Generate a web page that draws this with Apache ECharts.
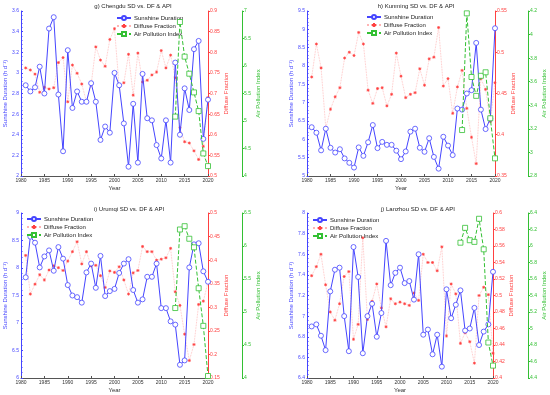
<!DOCTYPE html>
<html><head><meta charset="utf-8">
<script src="https://cdn.jsdelivr.net/npm/echarts@6/dist/echarts.min.js"></script>
<style>html,body{margin:0;padding:0;background:#fff}#c{width:550px;height:395px}</style>
</head><body><div id="c"></div>
<script>
const years = [1981,1982,1983,1984,1985,1986,1987,1988,1989,1990,1991,1992,1993,1994,1995,1996,1997,1998,1999,2000,
               2001,2002,2003,2004,2005,2006,2007,2008,2009,2010,2011,2012,2013,2014,2015,2016,2017,2018,2019,2020];
const apiYears = [2013,2014,2015,2016,2017,2018,2019,2020];

// g) Chengdu
const chengduSD = [2.88,2.82,2.86,3.06,2.80,3.43,3.54,2.79,2.24,3.22,2.66,2.82,2.72,2.72,2.90,2.72,2.35,2.48,2.42,3.00,
                   2.88,2.51,2.09,2.70,2.13,2.99,2.56,2.54,2.30,2.17,2.54,2.13,3.10,2.40,2.85,2.64,3.23,3.31,2.36,2.74];
const chengduDF = [0.762,0.757,0.747,0.703,0.715,0.711,0.714,0.775,0.787,0.680,0.769,0.749,0.723,0.680,0.721,0.813,0.781,0.766,0.831,0.857,
                   0.716,0.726,0.795,0.696,0.798,0.728,0.732,0.745,0.752,0.804,0.762,0.793,0.738,0.617,0.583,0.580,0.561,0.540,0.572,0.690];
const chengduAPI = [5.08,6.80,6.17,5.86,5.52,5.18,4.41,4.18];

// h) Kunming
const kunmingSD = [6.33,6.18,5.70,6.29,5.77,5.64,5.73,5.48,5.36,5.23,5.78,5.55,5.92,6.39,5.76,5.93,5.85,5.85,5.69,5.46,
                   5.67,6.21,6.29,5.77,5.66,6.03,5.52,5.20,6.07,5.83,5.57,6.84,6.81,7.25,7.34,8.63,6.81,6.28,6.56,9.03];
const kunmingDF = [0.470,0.510,0.481,0.408,0.431,0.446,0.457,0.493,0.500,0.496,0.524,0.510,0.454,0.438,0.456,0.457,0.435,0.449,0.499,0.471,
                   0.445,0.449,0.451,0.480,0.460,0.492,0.494,0.530,0.459,0.468,0.426,0.458,0.478,0.432,0.397,0.365,0.468,0.455,0.416,0.463];
const kunmingAPI = [3.19,4.18,3.64,3.48,3.65,3.68,3.29,2.95];

// i) Urumqi
const urumqiSD = [7.83,8.57,8.46,8.01,8.21,8.32,7.95,8.38,8.17,7.69,7.50,7.47,7.37,7.92,8.08,7.64,8.22,7.49,7.58,7.62,
                  7.91,8.08,8.16,7.60,7.37,7.43,7.84,7.84,8.08,7.27,7.27,7.03,6.97,6.24,6.32,8.01,8.43,8.45,7.94,7.75];
const urumqiDF = [0.410,0.328,0.349,0.369,0.358,0.379,0.388,0.384,0.378,0.398,0.418,0.439,0.392,0.418,0.388,0.389,0.367,0.342,0.377,0.374,
                  0.386,0.358,0.328,0.373,0.378,0.429,0.418,0.418,0.400,0.402,0.405,0.425,0.333,0.304,0.243,0.187,0.221,0.306,0.313,0.353];
const urumqiAPI = [5.06,6.25,6.30,6.11,5.98,5.36,4.79,4.03];

// j) Lanzhou
const lanzhouSD = [6.90,6.92,6.81,6.67,7.24,7.45,7.47,7.00,6.66,7.67,7.38,6.64,7.00,7.12,6.80,7.03,7.73,7.30,7.42,7.47,
                   7.32,7.34,7.16,7.60,6.82,6.87,6.63,6.82,6.51,7.26,6.98,7.11,7.25,6.86,6.88,7.08,6.72,6.85,6.92,7.43];
const lanzhouDF = [0.524,0.535,0.550,0.513,0.480,0.470,0.490,0.523,0.529,0.447,0.465,0.570,0.471,0.493,0.514,0.485,0.462,0.496,0.490,0.492,
                   0.490,0.488,0.503,0.494,0.550,0.540,0.540,0.530,0.559,0.451,0.514,0.502,0.442,0.455,0.444,0.418,0.500,0.510,0.501,0.430];
const lanzhouAPI = [6.04,6.22,6.07,6.05,6.33,5.96,4.83,4.55];

const seriesNames = ['Sunshine Duration','Diffuse Fraction','Air Pollution Index'];
const axisNames = ['Sunshine Duration (h d\u207B\u00B9)','Diffuse Fraction','Air Pollution Index'];

const panels = [
  {title:'g) Chengdu SD vs. DF & API', sd:chengduSD, df:chengduDF, api:chengduAPI,
   g:{left:21, top:11, width:187, height:165}, y1:[2,3.6,0.2], y2:[0.5,0.9,0.05], y3:[4,7,0.5], off:34, lg:[116,15], tt:[133,3]},
  {title:'h) Kunming SD vs. DF & API', sd:kunmingSD, df:kunmingDF, api:kunmingAPI,
   g:{left:307, top:11, width:188, height:165}, y1:[5,9.5,0.5], y2:[0.35,0.55,0.05], y3:[2.8,4.2,0.2], off:33, lg:[366,14], tt:[416,3]},
  {title:'i) Urumqi SD vs. DF & API', sd:urumqiSD, df:urumqiDF, api:urumqiAPI,
   g:{left:21, top:213, width:187, height:165}, y1:[6,9,0.5], y2:[0.15,0.5,0.05], y3:[4,6.5,0.5], off:34, lg:[26,216], tt:[129,206]},
  {title:'j) Lanzhou SD vs. DF & API', sd:lanzhouSD, df:lanzhouDF, api:lanzhouAPI,
   g:{left:307, top:213, width:186, height:165}, y1:[6.4,8,0.2], y2:[0.4,0.6,0.02], y3:[4.4,6.4,0.2], off:35, lg:[312,217], tt:[418,206]}
];

const FONT = 'Liberation Sans';
const BLUE = '#4545ff', RED = '#ff4040', GREEN = '#33c033';
const option = {backgroundColor:'#fff', animation:false, textStyle:{fontFamily:FONT},
  title:[], legend:[], grid:[], xAxis:[], yAxis:[], series:[]};

function yAx(i, rng, color, pos, off, name, gap, minor){
  return {type:'value', gridIndex:i, position:pos, offset:off, min:rng[0], max:rng[1], interval:rng[2],
    name:name, nameLocation:'middle', nameGap:gap, nameRotate:90,
    nameTextStyle:{color:color, fontSize:6, fontFamily:FONT},
    axisLine:{show:true, lineStyle:{color:color, width:1}},
    axisTick:{show:true, inside:pos==='left', length:2, lineStyle:{color:color}},
    minorTick:{show:!!minor, splitNumber:5, length:1.5, lineStyle:{color:color}},
    axisLabel:{color:color, fontSize:5, margin:2, fontFamily:FONT},
    splitLine:{show:false}};
}

panels.forEach((p, i) => {
  option.grid.push(Object.assign({containLabel:false}, p.g));
  option.title.push({text:p.title, left:p.tt[0], top:p.tt[1], textAlign:'center', padding:0,
    textStyle:{fontSize:6, fontWeight:'normal', color:'#222', fontFamily:FONT}});
  option.xAxis.push({type:'value', gridIndex:i, min:1980, max:2020, interval:5,
    name:'Year', nameLocation:'middle', nameGap:9, nameTextStyle:{fontSize:6, color:'#333', fontFamily:FONT},
    axisLine:{lineStyle:{color:'#555', width:1}}, axisTick:{inside:true, length:2, lineStyle:{color:'#555'}},
    axisLabel:{fontSize:5, color:'#333', margin:2, fontFamily:FONT, formatter:v=>String(v)}, splitLine:{show:false}});
  option.yAxis.push(yAx(i, p.y1, BLUE, 'left', 0, axisNames[0], 13, true));
  option.yAxis.push(yAx(i, p.y2, RED, 'right', 0, axisNames[1], 13, false));
  option.yAxis.push(yAx(i, p.y3, GREEN, 'right', p.off, axisNames[2], 11, false));
  option.series.push({name:seriesNames[0], type:'line', xAxisIndex:i, yAxisIndex:3*i, z:3,
    data:years.map((y,k)=>[y,p.sd[k]]), symbol:'circle', symbolSize:5, showSymbol:true,
    lineStyle:{color:BLUE, width:1}, itemStyle:{color:'#fff', borderColor:BLUE, borderWidth:0.8}, color:BLUE});
  option.series.push({name:seriesNames[1], type:'line', xAxisIndex:i, yAxisIndex:3*i+1, z:2,
    data:years.map((y,k)=>[y,p.df[k]]), symbol:'path://M0,-5L0,5M-5,0L5,0M-3.5,-3.5L3.5,3.5M-3.5,3.5L3.5,-3.5', symbolSize:3,
    lineStyle:{color:'#ffb4b4', width:0.8, type:'dotted'}, itemStyle:{color:RED, borderColor:RED, borderWidth:0.8}, color:RED});
  option.series.push({name:seriesNames[2], type:'line', xAxisIndex:i, yAxisIndex:3*i+2, z:4,
    data:apiYears.map((y,k)=>[y,p.api[k]]), symbol:'rect', symbolSize:5,
    lineStyle:{color:GREEN, width:1, type:[4,2]}, itemStyle:{color:'#fff', borderColor:GREEN, borderWidth:0.8}, color:GREEN});
  option.legend.push({left:p.lg[0], top:p.lg[1], orient:'vertical', itemWidth:14, itemHeight:5, itemGap:2,
    data:seriesNames, textStyle:{fontSize:6, color:'#222', fontFamily:FONT, padding:[0,0,0,-2]}, padding:0});
});

const chart = echarts.init(document.getElementById('c'), null, {renderer:'canvas'});
chart.setOption(option);
</script></body></html>
